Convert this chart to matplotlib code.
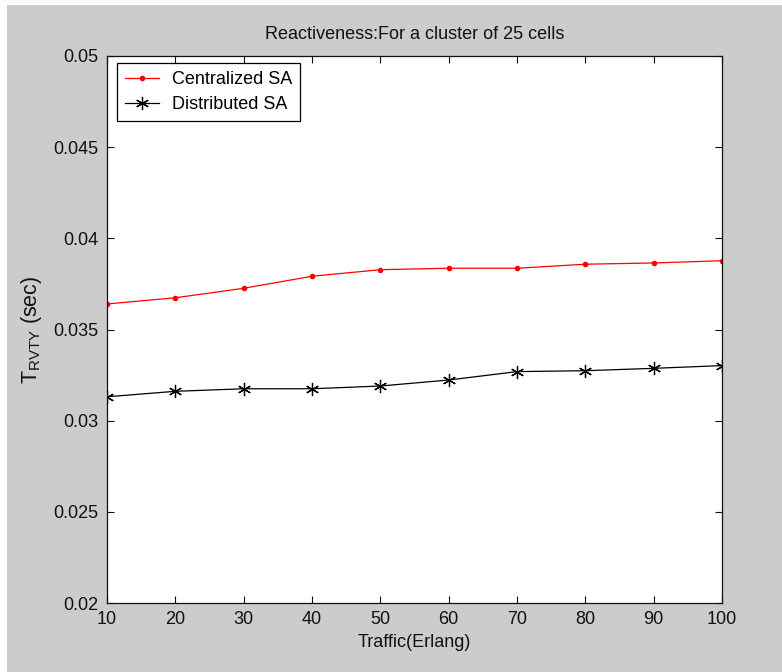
import matplotlib
matplotlib.use("Agg")
import matplotlib.pyplot as plt
from matplotlib.patches import Rectangle

plt.rcParams['font.family'] = ['Liberation Sans', 'DejaVu Sans']
plt.rcParams['mathtext.fontset'] = 'custom'
plt.rcParams['mathtext.rm'] = 'Liberation Sans'
plt.rcParams['mathtext.it'] = 'Liberation Sans'

traffic = [10, 20, 30, 40, 50, 60, 70, 80, 90, 100]
centralized = [0.03640, 0.03674, 0.03726, 0.03792, 0.03828,
               0.03836, 0.03836, 0.03858, 0.03865, 0.03877]
distributed = [0.03131, 0.03161, 0.03175, 0.03175, 0.03190,
               0.03223, 0.03269, 0.03274, 0.03287, 0.03302]
yticks = [0.02, 0.025, 0.03, 0.035, 0.04, 0.045, 0.05]
ytick_labels = ['0.02', '0.025', '0.03', '0.035', '0.04', '0.045', '0.05']

fig = plt.figure(figsize=(7.82, 6.72), dpi=100, facecolor='white')
# grey MATLAB-style figure background with a thin white edge top/left
fig.patches.append(Rectangle((7 / 782, 0), 1, 1 - 5 / 672, transform=fig.transFigure,
                             facecolor='#cccccc', edgecolor='none', zorder=-10))

ax = fig.add_axes([107 / 782, 69 / 672, 615 / 782, 547 / 672])
ax.set_facecolor('white')

ax.plot(traffic, centralized, color='red', lw=0.9, marker='.', markersize=6,
        label='Centralized SA')
ax.plot(traffic, distributed, color='black', lw=0.9, marker=(6, 2, 0), markersize=9.5,
        markeredgewidth=0.9, label='Distributed SA')

ax.set_xlim(10, 100)
ax.set_ylim(0.02, 0.05)
ax.set_xticks(traffic)
ax.set_yticks(yticks)
ax.set_yticklabels(ytick_labels)
ax.tick_params(direction='in', length=5, width=0.8, top=True, right=True,
               labelsize=13, pad=6, colors='#111111')
for s in ax.spines.values():
    s.set_linewidth(0.9)
    s.set_color('#111111')

ax.set_title('Reactiveness:For a cluster of 25 cells', fontsize=13, pad=12, color='#111111')
ax.set_xlabel('Traffic(Erlang)', fontsize=13, labelpad=4, color='#111111')
ax.set_ylabel(r'T$_{\rm RVTY}$ (sec)', fontsize=15.5, labelpad=7, color='#111111')

leg = ax.legend(loc='upper left', bbox_to_anchor=(10 / 615, 1 - 7 / 547),
                fontsize=13, frameon=True, fancybox=False,
                edgecolor='black', framealpha=1, handlelength=1.9,
                borderaxespad=0, labelspacing=0.43, borderpad=0.45,
                handletextpad=0.67)
leg.get_frame().set_linewidth(0.9)

fig.savefig('out.png', dpi=100, facecolor=fig.get_facecolor())
